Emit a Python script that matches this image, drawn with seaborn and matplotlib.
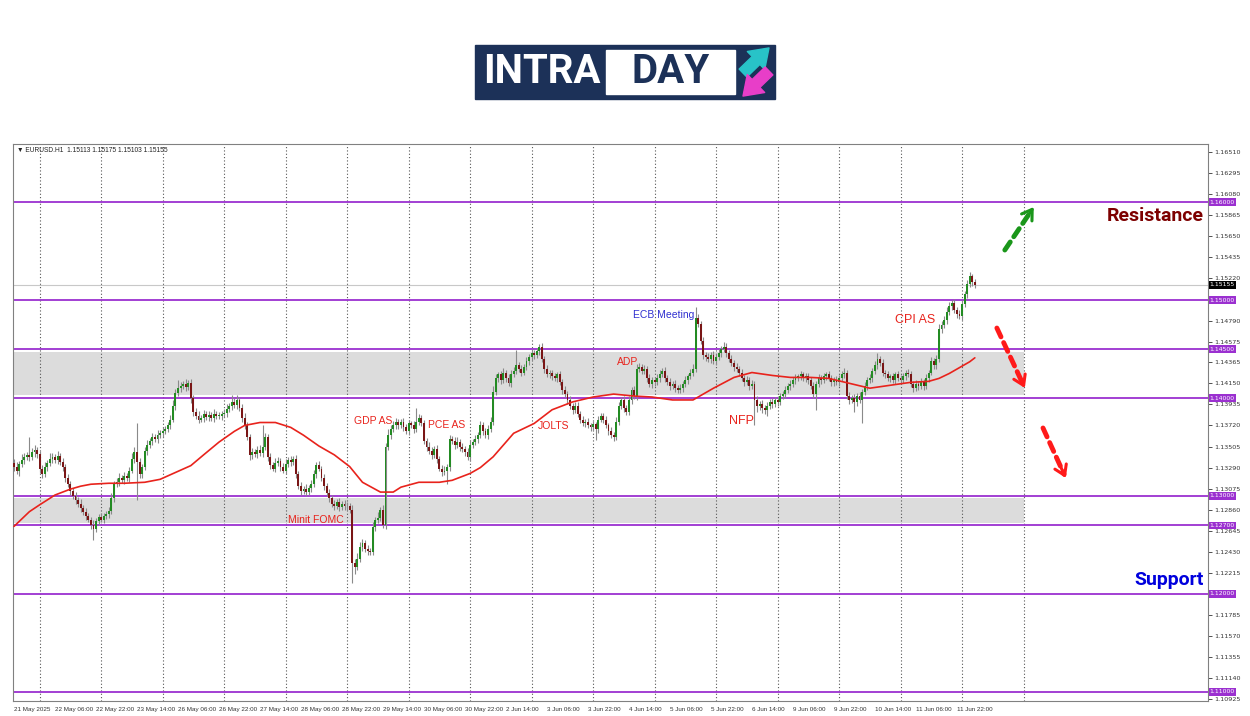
import numpy as np
import pandas as pd
import matplotlib
matplotlib.use("Agg")
import matplotlib.pyplot as plt
from matplotlib.patches import Rectangle, FancyArrowPatch
import seaborn as sns

sns.set_style("white")
plt.rcParams['font.family'] = ['Liberation Sans', 'DejaVu Sans']

# ---- data (EURUSD H1, prices as pips above 1.1000) ----
first_open = 334
close_pips = [
    330, 325, 333, 337, 340, 342, 340, 345, 347, 343,
    328, 322, 330, 334, 338, 340, 337, 341, 335, 330,
    318, 312, 305, 300, 296, 292, 288, 284, 280, 276,
    270, 266, 274, 279, 276, 280, 282, 285, 298, 312,
    314, 318, 316, 320, 318, 326, 338, 345, 335, 322,
    330, 346, 352, 356, 360, 358, 362, 364, 366, 368,
    372, 378, 392, 405, 410, 412, 414, 411, 415, 400,
    386, 382, 378, 380, 384, 381, 383, 380, 384, 382,
    382, 384, 385, 389, 392, 396, 393, 398, 390, 380,
    372, 360, 342, 345, 343, 347, 344, 350, 360, 340,
    332, 328, 334, 336, 330, 326, 333, 337, 335, 338,
    322, 310, 305, 307, 304, 308, 312, 322, 332, 328,
    318, 310, 303, 298, 292, 290, 294, 289, 292, 290,
    290, 286, 232, 228, 236, 248, 252, 246, 244, 243,
    268, 275, 278, 286, 270, 350, 362, 368, 372, 376,
    372, 375, 370, 366, 374, 372, 368, 376, 380, 374,
    356, 350, 346, 342, 348, 338, 328, 324, 326, 330,
    358, 356, 352, 355, 350, 348, 345, 340, 352, 355,
    358, 362, 372, 366, 362, 368, 376, 406, 420, 424,
    418, 426, 420, 415, 424, 428, 434, 430, 426, 432,
    438, 442, 446, 444, 448, 452, 440, 430, 424, 426,
    422, 420, 424, 416, 408, 404, 398, 392, 388, 392,
    384, 378, 374, 376, 372, 370, 373, 368, 378, 382,
    378, 372, 366, 362, 360, 376, 392, 398, 390, 386,
    398, 408, 402, 430, 432, 428, 430, 420, 414, 418,
    416, 420, 424, 428, 420, 416, 412, 414, 410, 408,
    410, 414, 418, 422, 426, 430, 482, 476, 458, 444,
    442, 440, 444, 438, 442, 446, 450, 452, 446, 440,
    436, 432, 430, 426, 420, 416, 418, 412, 414, 398,
    392, 394, 390, 388, 392, 396, 394, 398, 396, 402,
    404, 408, 412, 414, 418, 420, 422, 424, 420, 422,
    418, 412, 404, 414, 420, 418, 422, 424, 420, 416,
    418, 416, 420, 424, 426, 402, 398, 400, 396, 402,
    398, 406, 412, 418, 420, 428, 434, 440, 436, 426,
    424, 420, 422, 418, 424, 420, 418, 422, 426, 424,
    414, 410, 414, 412, 416, 412, 420, 426, 438, 434,
    440, 470, 474, 480, 488, 494, 497, 490, 486, 484,
    496, 506, 516, 524, 518, 515.5,
]
upper_wick = [
    4, 5, 3, 6, 4, 3, 18, 4, 5, 3,
    3, 4, 5, 3, 6, 4, 3, 5, 3, 4,
    3, 4, 3, 3, 4, 3, 5, 3, 4, 3,
    3, 5, 4, 3, 4, 3, 3, 4, 5, 3,
    4, 5, 3, 4, 3, 4, 6, 5, 30, 4,
    3, 4, 5, 3, 4, 3, 5, 3, 4, 3,
    4, 5, 6, 4, 8, 4, 3, 5, 3, 4,
    3, 4, 5, 3, 4, 3, 4, 3, 5, 3,
    4, 3, 4, 5, 3, 7, 4, 5, 3, 4,
    5, 4, 3, 4, 3, 4, 5, 22, 4, 3,
    4, 3, 5, 4, 3, 4, 5, 3, 4, 3,
    4, 3, 4, 3, 5, 3, 4, 5, 3, 4,
    3, 4, 3, 4, 3, 4, 3, 4, 3, 4,
    4, 3, 5, 4, 6, 5, 4, 3, 4, 3,
    5, 4, 6, 3, 5, 4, 6, 4, 5, 4,
    3, 4, 5, 3, 4, 3, 5, 14, 4, 3,
    4, 3, 5, 4, 3, 4, 3, 4, 5, 3,
    4, 3, 4, 5, 3, 4, 3, 4, 5, 3,
    4, 3, 5, 4, 3, 4, 5, 6, 4, 3,
    4, 5, 3, 4, 5, 4, 15, 3, 4, 3,
    4, 3, 4, 3, 3, 3, 4, 3, 4, 3,
    3, 4, 3, 4, 3, 4, 3, 4, 3, 4,
    4, 3, 4, 3, 4, 3, 4, 3, 4, 3,
    3, 4, 3, 4, 3, 5, 4, 3, 4, 3,
    4, 3, 4, 5, 4, 3, 4, 3, 4, 3,
    3, 4, 5, 3, 4, 3, 4, 3, 4, 3,
    4, 3, 4, 3, 4, 5, 11, 4, 3, 4,
    3, 4, 3, 4, 3, 4, 3, 5, 4, 3,
    4, 3, 4, 3, 4, 3, 4, 3, 4, 3,
    4, 3, 4, 3, 4, 3, 4, 3, 4, 3,
    3, 4, 3, 4, 3, 4, 3, 4, 3, 4,
    4, 3, 4, 3, 4, 3, 4, 3, 4, 3,
    3, 4, 3, 4, 5, 3, 4, 3, 4, 3,
    4, 3, 4, 3, 4, 3, 4, 6, 3, 4,
    3, 4, 3, 4, 3, 4, 3, 4, 3, 4,
    4, 3, 4, 3, 4, 3, 4, 3, 4, 3,
    4, 6, 5, 4, 5, 4, 3, 4, 3, 4,
    4, 3, 4, 5, 3, 3,
]
lower_wick = [
    4, 3, 5, 3, 4, 3, 4, 3, 5, 4,
    5, 4, 3, 4, 3, 4, 3, 4, 3, 4,
    4, 3, 4, 3, 4, 3, 4, 3, 4, 3,
    4, 11, 3, 4, 3, 4, 3, 4, 3, 4,
    3, 4, 3, 4, 3, 4, 3, 4, 39, 4,
    4, 3, 4, 3, 4, 3, 4, 3, 4, 3,
    3, 4, 3, 4, 3, 4, 3, 4, 3, 5,
    4, 3, 4, 3, 4, 3, 4, 3, 4, 3,
    3, 4, 3, 4, 3, 4, 3, 4, 3, 4,
    4, 3, 5, 4, 3, 4, 3, 4, 3, 4,
    4, 3, 4, 3, 4, 3, 4, 3, 4, 3,
    4, 3, 4, 3, 4, 3, 4, 3, 4, 3,
    3, 4, 3, 4, 3, 4, 3, 4, 3, 4,
    4, 3, 21, 8, 4, 3, 4, 3, 4, 3,
    3, 4, 3, 4, 3, 4, 3, 4, 3, 4,
    4, 3, 4, 3, 4, 3, 4, 3, 4, 3,
    3, 4, 3, 4, 3, 4, 3, 4, 3, 14,
    4, 3, 4, 3, 4, 3, 4, 3, 4, 3,
    3, 4, 3, 4, 3, 4, 3, 4, 3, 4,
    4, 3, 4, 3, 4, 3, 4, 3, 4, 3,
    3, 4, 3, 4, 3, 4, 3, 4, 3, 4,
    4, 3, 4, 3, 4, 3, 4, 3, 4, 3,
    3, 4, 3, 4, 3, 4, 3, 11, 4, 3,
    4, 3, 4, 3, 4, 3, 4, 3, 4, 3,
    3, 4, 3, 4, 3, 4, 3, 4, 3, 4,
    4, 3, 4, 3, 4, 3, 4, 3, 4, 3,
    3, 4, 3, 4, 3, 4, 3, 4, 3, 4,
    4, 3, 4, 3, 4, 3, 4, 3, 4, 3,
    3, 4, 3, 4, 3, 4, 3, 4, 3, 26,
    6, 4, 5, 4, 6, 3, 4, 3, 4, 3,
    3, 4, 3, 4, 3, 4, 3, 4, 3, 4,
    4, 3, 4, 16, 3, 4, 3, 4, 3, 4,
    4, 3, 4, 3, 4, 3, 4, 3, 10, 4,
    3, 24, 3, 4, 3, 4, 3, 4, 3, 4,
    4, 3, 4, 3, 4, 3, 4, 3, 4, 3,
    3, 4, 3, 4, 3, 4, 3, 4, 3, 4,
    4, 3, 4, 3, 4, 3, 4, 3, 4, 3,
    4, 3, 4, 3, 4, 3,
]

# moving average read at sample bars
ma_bars = [0, 6, 10, 16, 22, 26, 30, 37, 43, 51, 57, 63, 69, 74, 80, 86, 90, 96,
           102, 108, 113, 119, 125, 131, 136, 143, 148, 151, 158, 166, 171, 178,
           182, 187, 195, 203, 210, 218, 226, 234, 242, 249, 257, 265, 273, 281,
           288, 296, 303, 311, 318, 326, 334, 342, 350, 357, 361, 365, 369, 373, 375]
ma_pips = [269, 284, 291, 301, 307, 310, 312, 313, 313, 314, 317, 324, 331, 342,
           355, 366, 372, 375, 375, 370, 362, 351, 342, 330, 314, 304, 304, 309,
           314, 314, 316, 323, 329, 340, 364, 374, 388, 396, 401, 404, 402, 401,
           398, 398, 410, 421, 426, 423, 421, 421, 420, 415, 410, 413, 416, 417,
           420, 425, 431, 437, 441]

levels = [1.16000, 1.15000, 1.14500, 1.14000, 1.13000, 1.12700, 1.12000, 1.11000]
zones = [(1.1403, 1.1447), (1.1272, 1.1298)]
bid = 1.15155

y_ticks = [1.16510, 1.16295, 1.16080, 1.15865, 1.15650, 1.15435, 1.15220, 1.14790,
           1.14575, 1.14365, 1.14150, 1.13935, 1.13720, 1.13505, 1.13290, 1.13075,
           1.12860, 1.12645, 1.12430, 1.12215, 1.11785, 1.11570, 1.11355, 1.11140,
           1.10925]
x_labels = ["21 May 2025", "22 May 06:00", "22 May 22:00", "23 May 14:00",
            "26 May 06:00", "26 May 22:00", "27 May 14:00", "28 May 06:00",
            "28 May 22:00", "29 May 14:00", "30 May 06:00", "30 May 22:00",
            "2 Jun 14:00", "3 Jun 06:00", "3 Jun 22:00", "4 Jun 14:00",
            "5 Jun 06:00", "5 Jun 22:00", "6 Jun 14:00", "9 Jun 06:00",
            "9 Jun 22:00", "10 Jun 14:00", "11 Jun 06:00", "11 Jun 22:00"]

events = ["Minit FOMC", "GDP AS", "PCE AS", "JOLTS", "ADP", "ECB Meeting", "NFP", "CPI AS"]
event_bar = [118, 140, 169, 210.7, 239.6, 253.7, 284, 351.6]
event_price = [1.12755, 1.13765, 1.13724, 1.13714, 1.14367, 1.14847, 1.13765, 1.14796]

# ---- build frame ----
n = len(close_pips)
close = 1.1 + np.array(close_pips) / 1e4
open_ = np.r_[1.1 + first_open / 1e4, close[:-1]]
high = np.maximum(open_, close) + np.array(upper_wick) / 1e4
low = np.minimum(open_, close) - np.array(lower_wick) / 1e4
df = pd.DataFrame({'bar': np.arange(n), 'open': open_, 'close': close,
                   'high': high, 'low': low})
ma = pd.DataFrame({'bar': ma_bars, 'ma': 1.1 + np.array(ma_pips) / 1e4})

fig = plt.figure(figsize=(12.5, 7.16), dpi=100)
ax = fig.add_axes([13 / 1250, 15 / 716, 1195 / 1250, 557 / 716])
ax.set_xlim(-0.4, 466)
ax.set_ylim(1.10908, 1.16592)

# shaded zones and levels
for lo, hi in zones:
    ax.add_patch(Rectangle((-0.4, lo), 394.4, hi - lo, color='#dcdcdc', lw=0, zorder=0))
for gx in range(10, 395, 24):
    ax.axvline(gx, color='#555555', lw=0.8, ls=(0, (1, 2)), zorder=1)
for lev in levels:
    ax.axhline(lev, color='#9b30d0', lw=1.3, zorder=1)
ax.axhline(bid, color='#c8c8c8', lw=0.8, zorder=1)

# candles
up = df.close >= df.open
ax.vlines(df.bar, df.low, df.high, color='#8a8a8a', lw=0.8, zorder=2)
body = (df.close - df.open).abs().clip(lower=0.00003)
ax.bar(df.bar, body, bottom=df[['open', 'close']].min(axis=1), width=0.74,
       color=np.where(up, '#238b23', '#7a1616'), lw=0, zorder=3)

# moving average
sns.lineplot(data=ma, x='bar', y='ma', ax=ax, color='#e8231c', lw=1.2, zorder=4)

# event labels
for name, b, p in zip(events, event_bar, event_price):
    big = name in ("NFP", "CPI AS")
    ax.text(b, p, name, ha='center', va='center', fontsize=9 if big else 7.5,
            color='#3030d0' if name == "ECB Meeting" else '#e8231c', zorder=5)

# arrows
def dashed_arrow(tail, head, color):
    ax.annotate('', xy=head, xytext=tail,
                arrowprops=dict(arrowstyle='-', color=color, lw=3.5, ls=(0, (2, 1.3)),
                                shrinkA=0, shrinkB=3))
    ax.annotate('', xy=head, xytext=(tail[0] + (head[0] - tail[0]) * 0.8,
                                     tail[1] + (head[1] - tail[1]) * 0.8),
                arrowprops=dict(arrowstyle='->,head_length=0.7,head_width=0.45',
                                color=color, lw=2.2, shrinkA=0, shrinkB=0))

dashed_arrow((386.7, 1.15510), (398.0, 1.15949), '#1a961a')
dashed_arrow((383.6, 1.14714), (394.5, 1.14102), '#ff1a1a')
dashed_arrow((401.6, 1.13694), (410.5, 1.13184), '#ff1a1a')

ytr = ax.get_yaxis_transform()
ax.text(0.9967, 1.15857, "Resistance", transform=ytr, ha='right', va='center',
        fontsize=14, fontweight='bold', color='#7d0000', family='Roboto')
ax.text(0.9967, 1.12143, "Support", transform=ytr, ha='right', va='center',
        fontsize=14, fontweight='bold', color='#0000dd', family='Roboto')

# header
ax.text(0.003, 0.995, "\u25bc EURUSD.H1  1.15113 1.15175 1.15103 1.15155",
        transform=ax.transAxes, ha='left', va='top', fontsize=4.8, color='#222222')

# axes styling
for s in ax.spines.values():
    s.set_color('#808080')
    s.set_linewidth(0.8)
ax.yaxis.tick_right()
ax.set_yticks(y_ticks)
ax.set_yticklabels([f"{t:.5f}" for t in y_ticks], family='DejaVu Sans')
ax.tick_params(axis='y', length=3, width=0.6, labelsize=4.6, colors='#333333', pad=1.5,
               direction='out')
ax.set_xticks(range(0, n, 16))
ax.set_xticklabels(x_labels)
ax.tick_params(axis='x', length=3, width=0.6, labelsize=4.5, colors='#333333', pad=1.5,
               direction='out')
for lbl in ax.get_xticklabels():
    lbl.set_horizontalalignment('left')
ax.set_xlabel('')
ax.set_ylabel('')

# price boxes on the right axis
for lev in levels:
    ax.text(1.0015, lev, f"{lev:.5f}", transform=ytr, ha='left', va='center',
            fontsize=4.4, color='white', family='DejaVu Sans', clip_on=False,
            bbox=dict(boxstyle='square,pad=0.2', fc='#9b30d0', ec='none'))
ax.text(1.0015, bid, f"{bid:.5f}", transform=ytr, ha='left', va='center',
        fontsize=4.4, color='white', family='DejaVu Sans', clip_on=False,
        bbox=dict(boxstyle='square,pad=0.2', fc='black', ec='none'))

# logo
fig.patches.append(Rectangle((475 / 1250, 1 - 99 / 716), 300 / 1250, 54 / 716,
                             transform=fig.transFigure, color='#1c3158', zorder=0))
fig.patches.append(Rectangle((606 / 1250, 1 - 94 / 716), 129 / 1250, 44 / 716,
                             transform=fig.transFigure, color='white', zorder=1))
fig.text(483 / 1250, 1 - 72 / 716, "INTRA", color='white', fontsize=29,
         fontweight='bold', family='Roboto', va='center', ha='left')
fig.text(671 / 1250, 1 - 72 / 716, "DAY", color='#1c3158', fontsize=29,
         fontweight='bold', family='Roboto', va='center', ha='center')
fig.patches.append(FancyArrowPatch((741 / 1250, 1 - 75 / 716), (771 / 1250, 1 - 46 / 716),
                                   transform=fig.transFigure, color='#28c3c8',
                                   arrowstyle='simple,head_width=1.8,head_length=1.3,tail_width=0.8',
                                   mutation_scale=10))
fig.patches.append(FancyArrowPatch((771 / 1250, 1 - 69 / 716), (741 / 1250, 1 - 98 / 716),
                                   transform=fig.transFigure, color='#e83ec8',
                                   arrowstyle='simple,head_width=1.8,head_length=1.3,tail_width=0.8',
                                   mutation_scale=10))

fig.savefig('out.png', dpi=100)
